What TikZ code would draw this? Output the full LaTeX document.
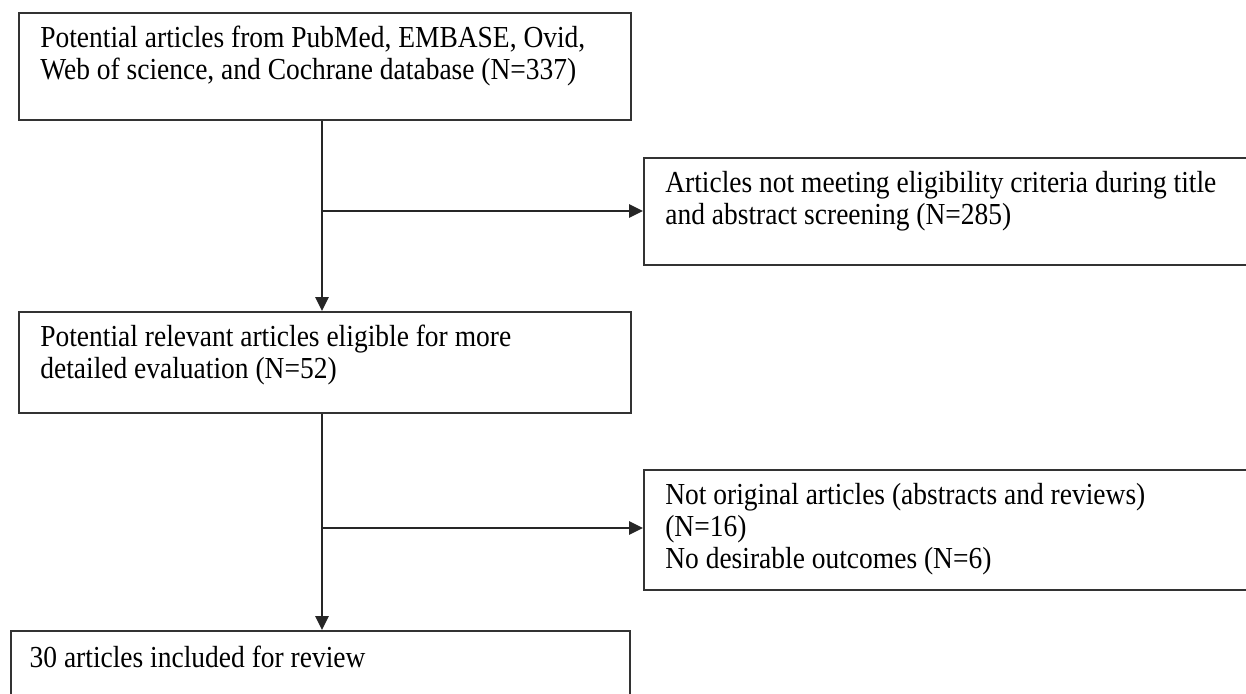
\documentclass[tikz,border=0pt]{standalone}
\usepackage{fontspec}
\setmainfont{Liberation Serif}[FakeStretch=0.9]
\usetikzlibrary{arrows.meta}

\tikzset{every picture/.style={line width=1.5pt}}

\begin{document}
\begin{tikzpicture}[x=0.75pt,y=-0.75pt,
    box/.style={draw=black!80, line width=1.5pt, anchor=north west, inner sep=0pt},
    txt/.style={anchor=north west, align=left, inner sep=0pt, font=\fontsize{22.9pt}{24pt}\selectfont},
    arr/.style={draw=black!85, line width=1.5pt, -{Triangle[length=10.5pt,width=10pt]}}]
    \path[use as bounding box] (0,0) rectangle (1246,693);
    \clip (0,0) rectangle (1246,693);

    % boxes
    \node[box, minimum width=459pt, minimum height=80.25pt] (b1) at (18,12) {};
    \node[box, minimum width=462.75pt, minimum height=80.25pt] (b2) at (643,157) {};
    \node[box, minimum width=459pt, minimum height=75.75pt] (b3) at (18,311) {};
    \node[box, minimum width=462.75pt, minimum height=90pt] (b4) at (643,469) {};
    \node[box, minimum width=464.25pt, minimum height=67.5pt] (b5) at (10,630) {};

    % texts
    \node[txt] (t1) at ([xshift=16pt,yshift=-10pt]b1.north west) {Potential articles from PubMed, EMBASE, Ovid,\\Web of science, and Cochrane database (N=337)};
    \node[txt] (t2) at ([xshift=16pt,yshift=-10pt]b2.north west) {Articles not meeting eligibility criteria during title\\and abstract screening (N=285)};
    \node[txt] (t3) at ([xshift=16pt,yshift=-10pt]b3.north west) {Potential relevant articles eligible for more\\detailed evaluation (N=52)};
    \node[txt] (t4) at ([xshift=16pt,yshift=-10pt]b4.north west) {Not original articles (abstracts and reviews)\\(N=16)\\No desirable outcomes (N=6)};
    \node[txt] (t5) at ([xshift=14pt,yshift=-11pt]b5.north west) {30 articles included for review};

    % connectors
    \coordinate (j1) at (322,211);
    \coordinate (j2) at (322,528);
    \draw[arr] (b1.south -| j1) -- (b3.north -| j1);
    \draw[arr] (j1) -- (b2.west |- j1);
    \draw[arr] (b3.south -| j2) -- (b5.north -| j2);
    \draw[arr] (j2) -- (b4.west |- j2);
\end{tikzpicture}
\end{document}
